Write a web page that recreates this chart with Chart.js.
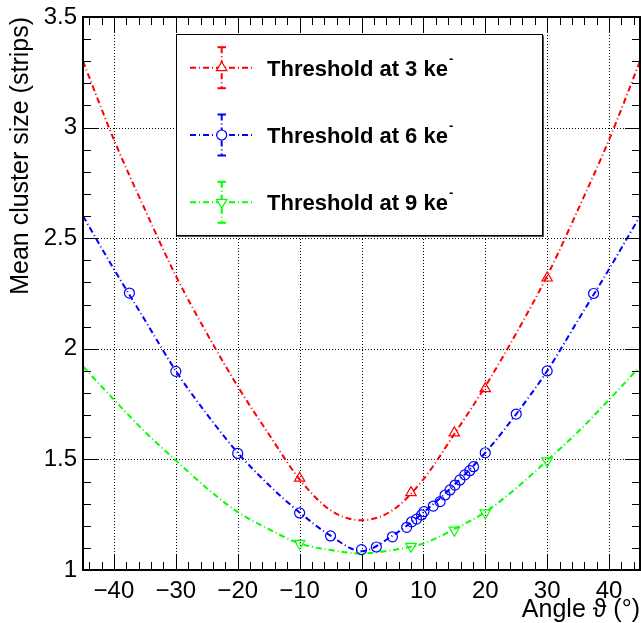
<!DOCTYPE html>
<html><head><meta charset="utf-8">
<script src="https://cdn.jsdelivr.net/npm/chart.js@4"></script>
<style>html,body{margin:0;padding:0;background:#fff}canvas{display:block}</style>
</head><body>
<canvas id="c" width="641" height="623"></canvas>
<script>
// ---- data ----
const xTickValues = [-40, -30, -20, -10, 0, 10, 20, 30, 40];
const yTickValues = [1, 1.5, 2, 2.5, 3, 3.5];

const fitAngles = [-45, -40, -35, -30, -25, -20, -15, -10, -5, 0, 5, 10, 15, 20, 25, 30, 35, 40, 45];
const fit3ke = [3.30, 2.945, 2.63, 2.33, 2.07, 1.83, 1.615, 1.41, 1.27, 1.225, 1.27, 1.41, 1.615, 1.83, 2.07, 2.33, 2.63, 2.945, 3.30];
const fit6ke = [2.60, 2.36, 2.13, 1.90, 1.705, 1.53, 1.385, 1.26, 1.155, 1.085, 1.155, 1.26, 1.385, 1.53, 1.705, 1.90, 2.13, 2.36, 2.60];
const fit9ke = [1.92, 1.77, 1.625, 1.495, 1.37, 1.262, 1.185, 1.12, 1.09, 1.075, 1.09, 1.12, 1.185, 1.262, 1.37, 1.495, 1.625, 1.77, 1.92];

const angles3ke = [-10, 8, 15, 20, 30];
const size3ke = [1.415, 1.35, 1.62, 1.82, 2.32];

const angles6ke = [-37.5, -30, -20, -10, -5, 0, 2.4, 5, 7.3, 8.1, 8.9, 9.7, 10.1, 11.6, 12.7, 13.5, 14.3, 15.1, 15.9, 16.7, 17.5, 18.1, 20, 25, 30, 37.5];
const size6ke = [2.252, 1.898, 1.527, 1.258, 1.154, 1.092, 1.104, 1.15, 1.193, 1.218, 1.23, 1.249, 1.264, 1.289, 1.309, 1.339, 1.362, 1.384, 1.407, 1.43, 1.449, 1.467, 1.53, 1.705, 1.90, 2.25];

const angles9ke = [-10, 8, 15, 20, 30];
const size9ke = [1.12, 1.107, 1.18, 1.258, 1.493];

const seriesNames = ['Threshold at 3 ke', 'Threshold at 6 ke', 'Threshold at 9 ke'];
const seriesSup = '-';
const xTitle = 'Angle \u03D1 (\u00B0)';
const yTitle = 'Mean cluster size (strips)';

// ---- styles ----
const FONT = "'Liberation Sans', Arial, Helvetica, sans-serif";
const colors = ['#ff0000', '#0000ff', '#00ff00'];
const marker = [
  {pointStyle: 'triangle', rotation: 0, radius: 6},
  {pointStyle: 'circle', rotation: 0, radius: 5},
  {pointStyle: 'triangle', rotation: 180, radius: 6}
];
const DASH = [6, 3, 1, 3];

function pts(xs, ys) { return xs.map((x, i) => ({x: x, y: ys[i]})); }

function fitSet(ys, c) {
  return {type: 'line', data: pts(fitAngles, ys), borderColor: c, borderWidth: 2,
    borderDash: DASH, pointRadius: 0, fill: false, cubicInterpolationMode: 'monotone', order: 2};
}
function markSet(xs, ys, i) {
  return {type: 'scatter', data: pts(xs, ys), borderColor: colors[i], backgroundColor: 'rgba(0,0,0,0)',
    pointStyle: marker[i].pointStyle, pointRotation: marker[i].rotation, pointRadius: marker[i].radius,
    pointBorderWidth: 1.2, pointHoverRadius: marker[i].radius, showLine: false, order: 1};
}

function seg(ctx, x1, y1, x2, y2) { ctx.beginPath(); ctx.moveTo(x1, y1); ctx.lineTo(x2, y2); ctx.stroke(); }

const rootFrame = {
  id: 'rootFrame',
  beforeDatasetsDraw(chart) {
    const {ctx, chartArea: a, scales: {x, y}} = chart;
    ctx.save();
    ctx.strokeStyle = '#000'; ctx.lineWidth = 1; ctx.setLineDash([1, 2]);
    xTickValues.forEach(v => {
      const px = Math.round(x.getPixelForValue(v)) + 0.5;
      seg(ctx, px, a.top, px, a.bottom);
    });
    yTickValues.forEach(v => {
      if (v === y.min || v === y.max) return;
      const py = Math.round(y.getPixelForValue(v)) + 0.5;
      seg(ctx, a.left, py, a.right, py);
    });
    ctx.restore();
  },
  afterDatasetsDraw(chart) {
    const {ctx, chartArea: a, scales: {x, y}} = chart;
    ctx.save();
    // legend box
    const L = 176.5, T = 34.5, R = 542.5, B = 235.5;
    ctx.fillStyle = '#fff'; ctx.fillRect(L, T, R - L, B - T);
    ctx.strokeStyle = '#000'; ctx.lineWidth = 1; ctx.setLineDash([]);
    ctx.strokeRect(L, T, R - L, B - T);
    ctx.strokeStyle = '#555';
    seg(ctx, R + 1, T + 1, R + 1, B + 1.5);
    seg(ctx, L + 1, B + 1, R + 1.5, B + 1);
    const rows = [67.7, 135, 202.3];
    rows.forEach((ry, i) => {
      const ds = chart.data.datasets[3 + i];
      ctx.strokeStyle = colors[i]; ctx.lineWidth = 2; ctx.setLineDash(DASH);
      seg(ctx, 190, ry, 254, ry);
      seg(ctx, 221.7, ry - 20.5, 221.7, ry + 20.5);
      ctx.setLineDash([]);
      seg(ctx, 217.5, ry - 20.5, 226, ry - 20.5);
      seg(ctx, 217.5, ry + 20.5, 226, ry + 20.5);
      ctx.fillStyle = '#fff';
      ctx.strokeStyle = ds.borderColor; ctx.lineWidth = 1.2;
      Chart.helpers.drawPoint(ctx, {pointStyle: marker[i].pointStyle, rotation: marker[i].rotation,
        radius: marker[i].radius, borderWidth: 1.2}, 221.7, ry);
      ctx.fillStyle = '#000';
      ctx.font = 'bold 22px ' + FONT;
      ctx.textAlign = 'left'; ctx.textBaseline = 'alphabetic';
      ctx.fillText(seriesNames[i], 267, ry + 8);
      const w = ctx.measureText(seriesNames[i]).width;
      ctx.font = 'bold 13px ' + FONT;
      ctx.fillText(seriesSup, 267 + w + 1, ry - 5);
    });
    // ticks
    ctx.strokeStyle = '#000'; ctx.lineWidth = 1; ctx.setLineDash([]);
    for (let v = -44; v <= 44; v += 2) {
      const px = Math.round(x.getPixelForValue(v)) + 0.5;
      const len = (v % 10 === 0) ? 16 : 8;
      seg(ctx, px, a.bottom, px, a.bottom - len);
      seg(ctx, px, a.top, px, a.top + len);
    }
    for (let i = 11; i <= 34; i++) {
      const py = Math.round(y.getPixelForValue(i / 10)) + 0.5;
      const len = (i % 5 === 0) ? 15 : 8;
      seg(ctx, a.left, py, a.left + len, py);
      seg(ctx, a.right, py, a.right - len, py);
    }
    // frame
    ctx.lineWidth = 2;
    ctx.strokeRect(a.left, a.top, a.right - a.left, a.bottom - a.top);
    ctx.restore();
  }
};

new Chart(document.getElementById('c'), {
  type: 'scatter',
  data: {datasets: [
    fitSet(fit3ke, colors[0]), fitSet(fit6ke, colors[1]), fitSet(fit9ke, colors[2]),
    markSet(angles3ke, size3ke, 0), markSet(angles6ke, size6ke, 1), markSet(angles9ke, size9ke, 2)
  ]},
  options: {
    responsive: false, animation: false, devicePixelRatio: 1,
    layout: {autoPadding: false, padding: {top: 17, right: 1, left: 0, bottom: 0}},
    plugins: {legend: {display: false}, tooltip: {enabled: false}},
    events: [],
    scales: {
      x: {
        type: 'linear', min: -45, max: 45,
        grid: {display: false, drawTicks: false, tickLength: 0},
        border: {display: false},
        afterBuildTicks: s => { s.ticks = xTickValues.map(v => ({value: v})); },
        afterFit: s => { s.height = 53; s.paddingLeft = 0; s.paddingRight = 0; },
        ticks: {color: '#000', padding: 7, maxRotation: 0, autoSkip: false,
          font: {family: FONT, size: 24},
          callback: v => v < 0 ? '\u2212' + Math.abs(v) : String(v)},
        title: {display: true, text: xTitle, align: 'end', color: '#000',
          font: {family: FONT, size: 25}, padding: {top: 0, bottom: -2}}
      },
      y: {
        type: 'linear', min: 1, max: 3.5,
        grid: {display: false, drawTicks: false, tickLength: 0},
        border: {display: false},
        afterBuildTicks: s => { s.ticks = yTickValues.map(v => ({value: v})); },
        afterFit: s => { s.width = 83; s.paddingTop = 0; s.paddingBottom = 0; },
        ticks: {color: '#000', padding: 6, autoSkip: false,
          font: {family: FONT, size: 24},
          callback: v => String(v)},
        title: {display: true, text: yTitle, align: 'end', color: '#000',
          font: {family: FONT, size: 25}, padding: {top: 6, bottom: 0}}
      }
    }
  },
  plugins: [rootFrame]
});
</script>
</body></html>
